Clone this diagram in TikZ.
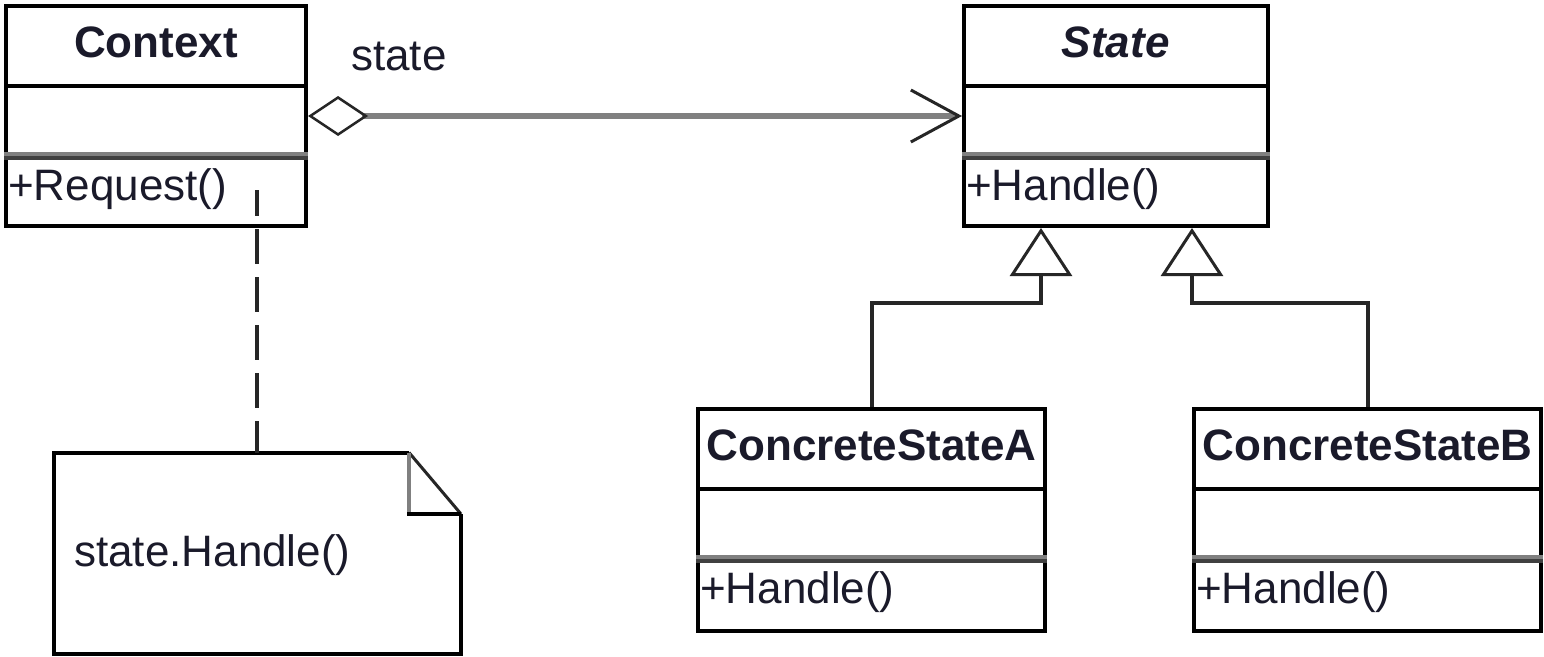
\documentclass[tikz,border=0pt]{standalone}
\usepackage{fontspec}
\setmainfont{Liberation Sans}
\usetikzlibrary{arrows.meta}
\definecolor{ink}{HTML}{1A1A2A}
\definecolor{conn}{HTML}{808080}
\definecolor{divgray}{HTML}{808080}
\definecolor{divdark}{HTML}{404040}
\begin{document}
\begin{tikzpicture}[x=1pt,y=-1pt,
  classbox/.style={draw=black, line width=4pt, fill=white, inner sep=0pt},
  divline/.style={draw=black, line width=4pt},
  divg/.style={draw=divgray, line width=4pt},
  divd/.style={draw=divdark, line width=4pt},
  txt/.style={font=\fontsize{44}{52}\selectfont, text=ink, inner sep=0pt},
  nametxt/.style={font=\fontsize{44}{52}\selectfont\bfseries, text=ink, inner sep=0pt},
  abstxt/.style={font=\fontsize{44}{52}\selectfont\bfseries\itshape, text=ink, inner sep=0pt},
  assoc/.style={draw=conn, line width=6pt,
    {Diamond[open, length=60pt, width=40pt, line width=2.5pt, color=black!85]}-{Straight Barb[length=48pt, width=52pt, line width=3pt, color=black!85]}},
  inh/.style={draw=black!85, line width=4pt, -{Triangle[open, length=48pt, width=62pt, line width=3pt, color=black!85]}},
  dashline/.style={draw=black!85, line width=4pt, dash pattern=on 35pt off 13pt, dash phase=3pt},
  notebox/.style={draw=black, line width=4pt, line join=miter},
]
\fill[white] (0,0) rectangle (1544,656);
\useasboundingbox (0,0) rectangle (1544,656);

% class boxes
\node[classbox, minimum width=300pt, minimum height=220pt] (ctx) at (156,116) {};
\node[classbox, minimum width=303.5pt, minimum height=220pt] (state) at (1115.75,116) {};
\node[classbox, minimum width=347pt, minimum height=222pt] (csa) at (871.5,520) {};
\node[classbox, minimum width=347pt, minimum height=222pt] (csb) at (1367.5,520) {};

% dividers
\draw[divline] (ctx.west |- 0,86) -- (ctx.east |- 0,86);
\draw[divg] (ctx.west |- 0,154) -- (ctx.east |- 0,154);
\draw[divd] (ctx.west |- 0,158) -- (ctx.east |- 0,158);
\draw[divline] (state.west |- 0,86) -- (state.east |- 0,86);
\draw[divg] (state.west |- 0,154) -- (state.east |- 0,154);
\draw[divd] (state.west |- 0,158) -- (state.east |- 0,158);
\draw[divline] (csa.west |- 0,489) -- (csa.east |- 0,489);
\draw[divg] (csa.west |- 0,557) -- (csa.east |- 0,557);
\draw[divd] (csa.west |- 0,561) -- (csa.east |- 0,561);
\draw[divline] (csb.west |- 0,489) -- (csb.east |- 0,489);
\draw[divg] (csb.west |- 0,557) -- (csb.east |- 0,557);
\draw[divd] (csb.west |- 0,561) -- (csb.east |- 0,561);

% texts
\node[nametxt, anchor=base] (ctxname) at (ctx.north |- 0,57) {Context};
\node[txt, anchor=base west] (ctxop) at (8,200) {+Request()};
\node[abstxt, anchor=base] (statename) at (state.north |- 0,57) {State};
\node[txt, anchor=base west] (stateop) at (966,200) {+Handle()};
\node[nametxt, anchor=base] (csaname) at (csa.north |- 0,460) {ConcreteStateA};
\node[txt, anchor=base west] (csaop) at (700,603) {+Handle()};
\node[nametxt, anchor=base] (csbname) at (csb.north |- 0,460) {ConcreteStateB};
\node[txt, anchor=base west] (csbop) at (1196,603) {+Handle()};

% association
\draw[assoc] (ctx.east) -- (state.west);
\node[txt, anchor=base west] (rolelabel) at (351,70) {state};

% generalizations
\coordinate (t1) at (1041,303);
\coordinate (t2) at (1192,303);
\draw[inh] (csa.north) |- (t1) -- (t1 |- state.south);
\draw[inh] (csb.north) |- (t2) -- (t2 |- state.south);

% note
\node[minimum width=407.5pt, minimum height=201pt, inner sep=0pt, outer sep=0pt] (note) at (257.25,553) {};
\draw[notebox] ([xshift=-52pt]note.north east) -- (note.north west) -- (note.south west) -- (note.south east) -- ([yshift=-61.5pt]note.north east);
\draw[draw=black!85, line width=3pt] ([xshift=-52pt]note.north east) -- ([yshift=-61.5pt]note.north east);
\draw[draw=divgray, line width=4pt] ([xshift=-52pt]note.north east) -- ([xshift=-52pt,yshift=-61.5pt]note.north east);
\draw[draw=black, line width=4pt] ([xshift=-54pt,yshift=-61.5pt]note.north east) -- ([yshift=-61.5pt]note.north east);
\node[txt, anchor=base west] (notetext) at (74,566) {state.Handle()};

% note anchor
\coordinate (dend) at (257.25,190);
\draw[dashline] (note.north) -- (dend);
\end{tikzpicture}
\end{document}
